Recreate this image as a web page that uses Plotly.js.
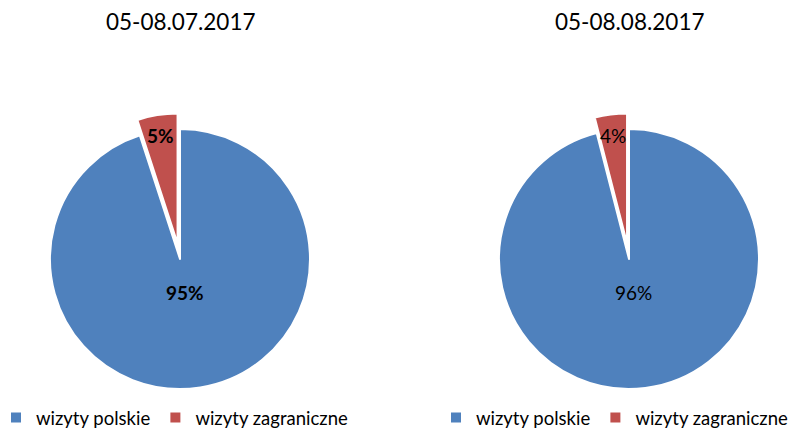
<!DOCTYPE html>
<html><head><meta charset="utf-8">
<script src="https://cdn.plot.ly/plotly-3.0.1.min.js"></script>
<style>body{margin:0;background:#fff}#c{width:805px;height:430px}</style>
</head><body><div id="c"></div>
<script>
const categories = ["wizyty polskie", "wizyty zagraniczne"];
const periods = ["05-08.07.2017", "05-08.08.2017"];
const valuesJuly = [95, 5];
const valuesAug = [96, 4];
const colors = ["#4F81BD", "#C0504D"];
const FONT = "Lato, Calibri, 'Liberation Sans', sans-serif";
const W = 805, H = 430;
const PULL = 0.12;

// pie placement (pixels): center and radius
const pies = [
  {vals: valuesJuly, cx: 180, cy: 259, r: 130, bold: true, legend: "legend"},
  {vals: valuesAug, cx: 629, cy: 259, r: 130, bold: false, legend: "legend2"}
];
const labelRadius = [0.26, 0.84]; // fraction of radius for label of each slice

const data = [];
const annotations = [];
pies.forEach((p, k) => {
  const half = p.r * (1 + PULL);
  data.push({
    type: "pie",
    // second pie gets an invisible suffix so its legend entries are not merged with the first pie's
    labels: categories.map(c => k === 0 ? c : c + "\u200B"),
    values: p.vals, sort: false,
    direction: "clockwise", rotation: 0, pull: [0, PULL],
    marker: {colors: colors, line: {color: "#fff", width: 2}},
    textinfo: "none",
    domain: {x: [(p.cx - half) / W, (p.cx + half) / W], y: [1 - (p.cy + half) / H, 1 - (p.cy - half) / H]},
    legend: p.legend, showlegend: true, hoverinfo: "label+percent"
  });
  const total = p.vals.reduce((a, b) => a + b, 0);
  let start = 0;
  p.vals.forEach((v, i) => {
    const mid = (start + v / 2) / total * 2 * Math.PI; // clockwise from 12 o'clock
    start += v;
    const pull = i === 1 ? PULL * p.r : 0;
    const d = labelRadius[i] * p.r + pull;
    const x = p.cx + d * Math.sin(mid);
    const y = p.cy - d * Math.cos(mid);
    const pct = Math.round(v / total * 100) + "%";
    annotations.push({
      text: p.bold ? "<b>" + pct + "</b>" : pct,
      x: x / W, y: 1 - y / H, xref: "paper", yref: "paper",
      xanchor: "center", yanchor: "middle", showarrow: false,
      font: {family: FONT, size: 19, color: "#000"}
    });
  });
  annotations.push({
    text: periods[k], x: p.cx / W, y: 1 - 22 / H, xref: "paper", yref: "paper",
    xanchor: "center", yanchor: "middle", showarrow: false,
    font: {family: FONT, size: 22.5, color: "#000"}
  });
});

const legStyle = {orientation: "h", xref: "paper", yref: "container", yanchor: "middle", y: 1 - 418 / H,
  font: {family: FONT, size: 18.5, color: "#000"}, itemwidth: 30, tracegroupgap: 0, bgcolor: "rgba(0,0,0,0)"};
const layout = {
  width: W, height: H, margin: {l: 0, r: 0, t: 0, b: 0, autoexpand: false},
  paper_bgcolor: "#fff", plot_bgcolor: "#fff",
  legend: Object.assign({x: -4 / W, xanchor: "left"}, legStyle),
  legend2: Object.assign({x: 436 / W, xanchor: "left"}, legStyle),
  annotations: annotations
};
Plotly.newPlot("c", data, layout, {displayModeBar: false, staticPlot: true});
</script></body></html>
